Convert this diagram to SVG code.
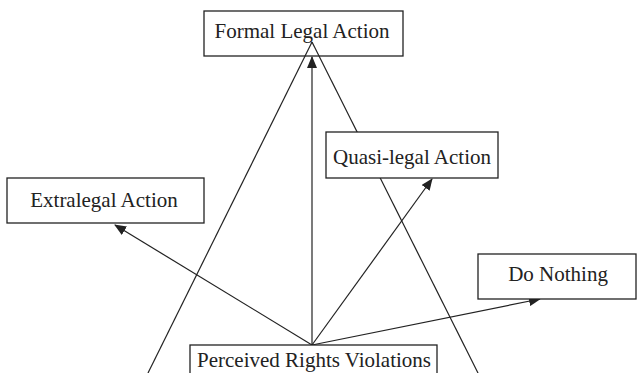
<svg xmlns="http://www.w3.org/2000/svg" width="637" height="373" viewBox="0 0 637 373">
<style>
.box{fill:#fff;stroke:#222;stroke-width:1.3}
.lbl{font-family:"Liberation Serif","Times New Roman",serif;font-size:21px;fill:#222;text-anchor:middle}
.ln{stroke:#222;stroke-width:1.2;fill:none}
.ar{stroke:#222;stroke-width:1.2;fill:none;marker-end:url(#ah)}
</style>
<defs>
<marker id="ah" markerWidth="12" markerHeight="10" refX="11" refY="5" orient="auto" markerUnits="userSpaceOnUse">
<path d="M0,0 L12,5 L0,10 Z" fill="#222"/>
</marker>
</defs>
<rect width="637" height="373" fill="#fff"/>
<g id="formal">
<rect class="box" x="204" y="11" width="199" height="45"/>
<text class="lbl" x="302" y="38">Formal Legal Action</text>
</g>
<g id="connectors">
<line class="ln" x1="312" y1="42" x2="148" y2="373"/>
<line class="ln" x1="312" y1="42" x2="478" y2="373"/>
<line class="ar" x1="312" y1="345" x2="312" y2="57"/>
<line class="ar" x1="312" y1="345" x2="115" y2="225"/>
<line class="ar" x1="312" y1="345" x2="432" y2="179"/>
<line class="ar" x1="312" y1="345" x2="540" y2="299"/>
</g>
<g id="quasi">
<rect class="box" x="326" y="132" width="172" height="46"/>
<text class="lbl" x="412" y="164">Quasi-legal Action</text>
</g>
<g id="extralegal">
<rect class="box" x="7" y="178" width="197" height="45"/>
<text class="lbl" x="104" y="207">Extralegal Action</text>
</g>
<g id="donothing">
<rect class="box" x="478" y="254" width="158" height="45"/>
<text class="lbl" x="558" y="281">Do Nothing</text>
</g>
<g id="perceived">
<rect class="box" x="190" y="345" width="247" height="40"/>
<text class="lbl" x="314" y="367">Perceived Rights Violations</text>
</g>
</svg>
